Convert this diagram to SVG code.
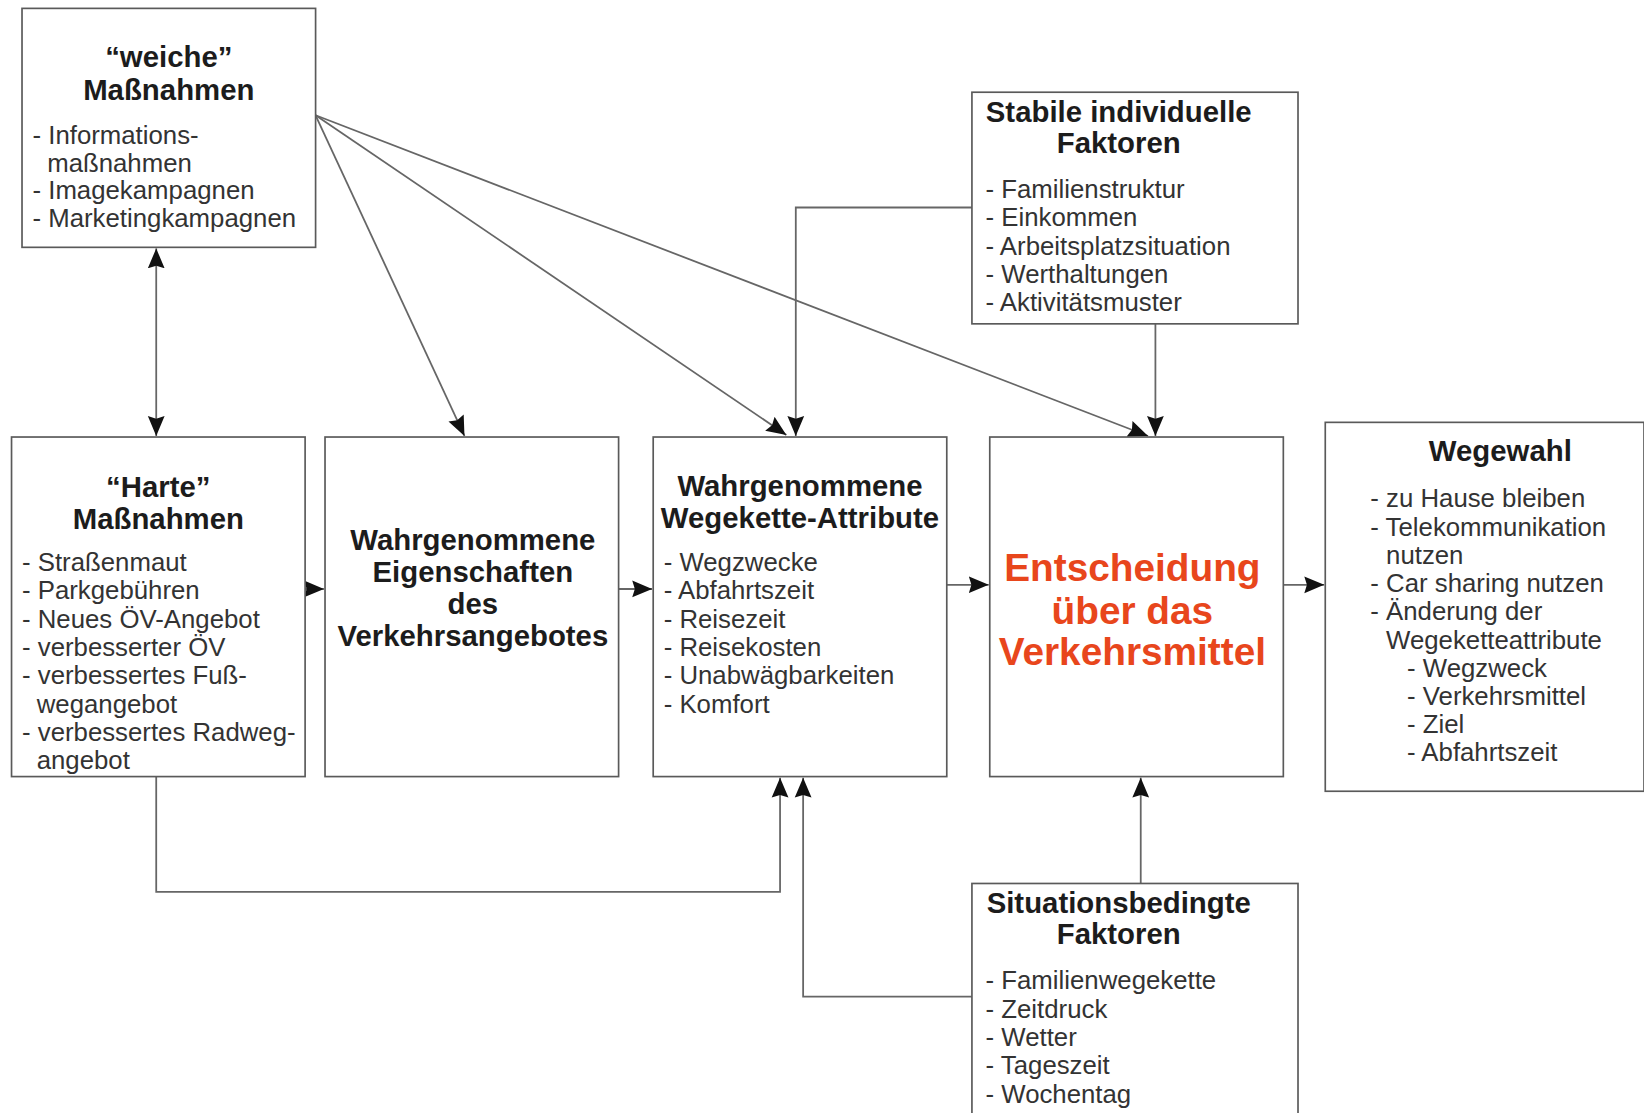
<svg xmlns="http://www.w3.org/2000/svg" width="1644" height="1113" viewBox="0 0 1644 1113">
<style>
.box{fill:#fff;stroke:#5a5a5a;stroke-width:1.6}
.t{font-family:"Liberation Sans",Arial,sans-serif;font-weight:bold;font-size:28px;fill:#1c1c1c;text-anchor:middle}
.l{font-family:"Liberation Sans",Arial,sans-serif;font-size:24.6px;fill:#333}
.big{font-family:"Liberation Sans",Arial,sans-serif;font-weight:bold;font-size:37px;fill:#e8461c;text-anchor:middle}
.c{fill:none;stroke:#666;stroke-width:1.7}
</style>
<defs>
<marker id="ah" markerUnits="userSpaceOnUse" markerWidth="20" markerHeight="18" refX="19" refY="8.5" orient="auto-start-reverse" viewBox="0 0 20 18">
<path d="M0,0.5 L19,8.5 L0,16.5 L2.5,8.5 z" fill="#111"/>
</marker>
</defs>
<rect width="1644" height="1113" fill="#fff"/>
<g transform="scale(1.04847 1.04802)">
<g id="connectors">
<line class="c" x1="149" y1="237" x2="149" y2="416" marker-start="url(#ah)" marker-end="url(#ah)"/>
<line class="c" x1="301" y1="110" x2="443" y2="416" marker-end="url(#ah)"/>
<line class="c" x1="301" y1="110" x2="750" y2="415" marker-end="url(#ah)"/>
<line class="c" x1="301" y1="110" x2="1095" y2="416" marker-end="url(#ah)"/>
<polyline class="c" points="927,198 759,198 759,416" marker-end="url(#ah)"/>
<line class="c" x1="1102" y1="309" x2="1102" y2="416" marker-end="url(#ah)"/>
<line class="c" x1="287" y1="562" x2="309" y2="562" marker-end="url(#ah)"/>
<line class="c" x1="590" y1="562" x2="622" y2="562" marker-end="url(#ah)"/>
<line class="c" x1="903" y1="558" x2="943" y2="558" marker-end="url(#ah)"/>
<line class="c" x1="1224" y1="558" x2="1263" y2="558" marker-end="url(#ah)"/>
<polyline class="c" points="149,741 149,851 744,851 744,742" marker-end="url(#ah)"/>
<polyline class="c" points="927,951 766,951 766,742" marker-end="url(#ah)"/>
<line class="c" x1="1088" y1="843" x2="1088" y2="742" marker-end="url(#ah)"/>
</g>
<g id="weiche">
<rect class="box" x="21" y="8" width="280" height="228"/>
<text class="t" x="161" y="64">“weiche”</text>
<text class="t" x="161" y="95">Maßnahmen</text>
<text class="l" x="31" y="137">- Informations-</text>
<text class="l" x="45" y="164">maßnahmen</text>
<text class="l" x="31" y="190">- Imagekampagnen</text>
<text class="l" x="31" y="217">- Marketingkampagnen</text>
</g>
<g id="stabile">
<rect class="box" x="927" y="88" width="311" height="221"/>
<text class="t" x="1067" y="116">Stabile individuelle</text>
<text class="t" x="1067" y="146">Faktoren</text>
<text class="l" x="940" y="189">- Familienstruktur</text>
<text class="l" x="940" y="216">- Einkommen</text>
<text class="l" x="940" y="243">- Arbeitsplatzsituation</text>
<text class="l" x="940" y="270">- Werthaltungen</text>
<text class="l" x="940" y="297">- Aktivitätsmuster</text>
</g>
<g id="harte">
<rect class="box" x="11" y="417" width="280" height="324"/>
<text class="t" x="151" y="474">“Harte”</text>
<text class="t" x="151" y="505">Maßnahmen</text>
<text class="l" x="21" y="545">- Straßenmaut</text>
<text class="l" x="21" y="572">- Parkgebühren</text>
<text class="l" x="21" y="599">- Neues ÖV-Angebot</text>
<text class="l" x="21" y="626">- verbesserter ÖV</text>
<text class="l" x="21" y="653">- verbessertes Fuß-</text>
<text class="l" x="35" y="680">wegangebot</text>
<text class="l" x="21" y="707">- verbessertes Radweg-</text>
<text class="l" x="35" y="734">angebot</text>
</g>
<g id="eigenschaften">
<rect class="box" x="310" y="417" width="280" height="324"/>
<text class="t" x="451" y="525">Wahrgenommene</text>
<text class="t" x="451" y="555">Eigenschaften</text>
<text class="t" x="451" y="586">des</text>
<text class="t" x="451" y="616">Verkehrsangebotes</text>
</g>
<g id="wegekette">
<rect class="box" x="623" y="417" width="280" height="324"/>
<text class="t" x="763" y="473">Wahrgenommene</text>
<text class="t" x="763" y="504">Wegekette-Attribute</text>
<text class="l" x="633" y="545">- Wegzwecke</text>
<text class="l" x="633" y="572">- Abfahrtszeit</text>
<text class="l" x="633" y="599">- Reisezeit</text>
<text class="l" x="633" y="626">- Reisekosten</text>
<text class="l" x="633" y="653">- Unabwägbarkeiten</text>
<text class="l" x="633" y="680">- Komfort</text>
</g>
<g id="entscheidung">
<rect class="box" x="944" y="417" width="280" height="324"/>
<text class="big" x="1080" y="554">Entscheidung</text>
<text class="big" x="1080" y="595">über das</text>
<text class="big" x="1080" y="635">Verkehrsmittel</text>
</g>
<g id="wegewahl">
<rect class="box" x="1264" y="403" width="304" height="352"/>
<text class="t" x="1431" y="440">Wegewahl</text>
<text class="l" x="1307" y="484">- zu Hause bleiben</text>
<text class="l" x="1307" y="511">- Telekommunikation</text>
<text class="l" x="1322" y="538">nutzen</text>
<text class="l" x="1307" y="565">- Car sharing nutzen</text>
<text class="l" x="1307" y="592">- Änderung der</text>
<text class="l" x="1322" y="619">Wegeketteattribute</text>
<text class="l" x="1342" y="646">- Wegzweck</text>
<text class="l" x="1342" y="673">- Verkehrsmittel</text>
<text class="l" x="1342" y="699">- Ziel</text>
<text class="l" x="1342" y="726">- Abfahrtszeit</text>
</g>
<g id="situationen">
<rect class="box" x="927" y="843" width="311" height="240"/>
<text class="t" x="1067" y="871">Situationsbedingte</text>
<text class="t" x="1067" y="901">Faktoren</text>
<text class="l" x="940" y="944">- Familienwegekette</text>
<text class="l" x="940" y="971">- Zeitdruck</text>
<text class="l" x="940" y="998">- Wetter</text>
<text class="l" x="940" y="1025">- Tageszeit</text>
<text class="l" x="940" y="1052">- Wochentag</text>
</g>
</g>
</svg>
